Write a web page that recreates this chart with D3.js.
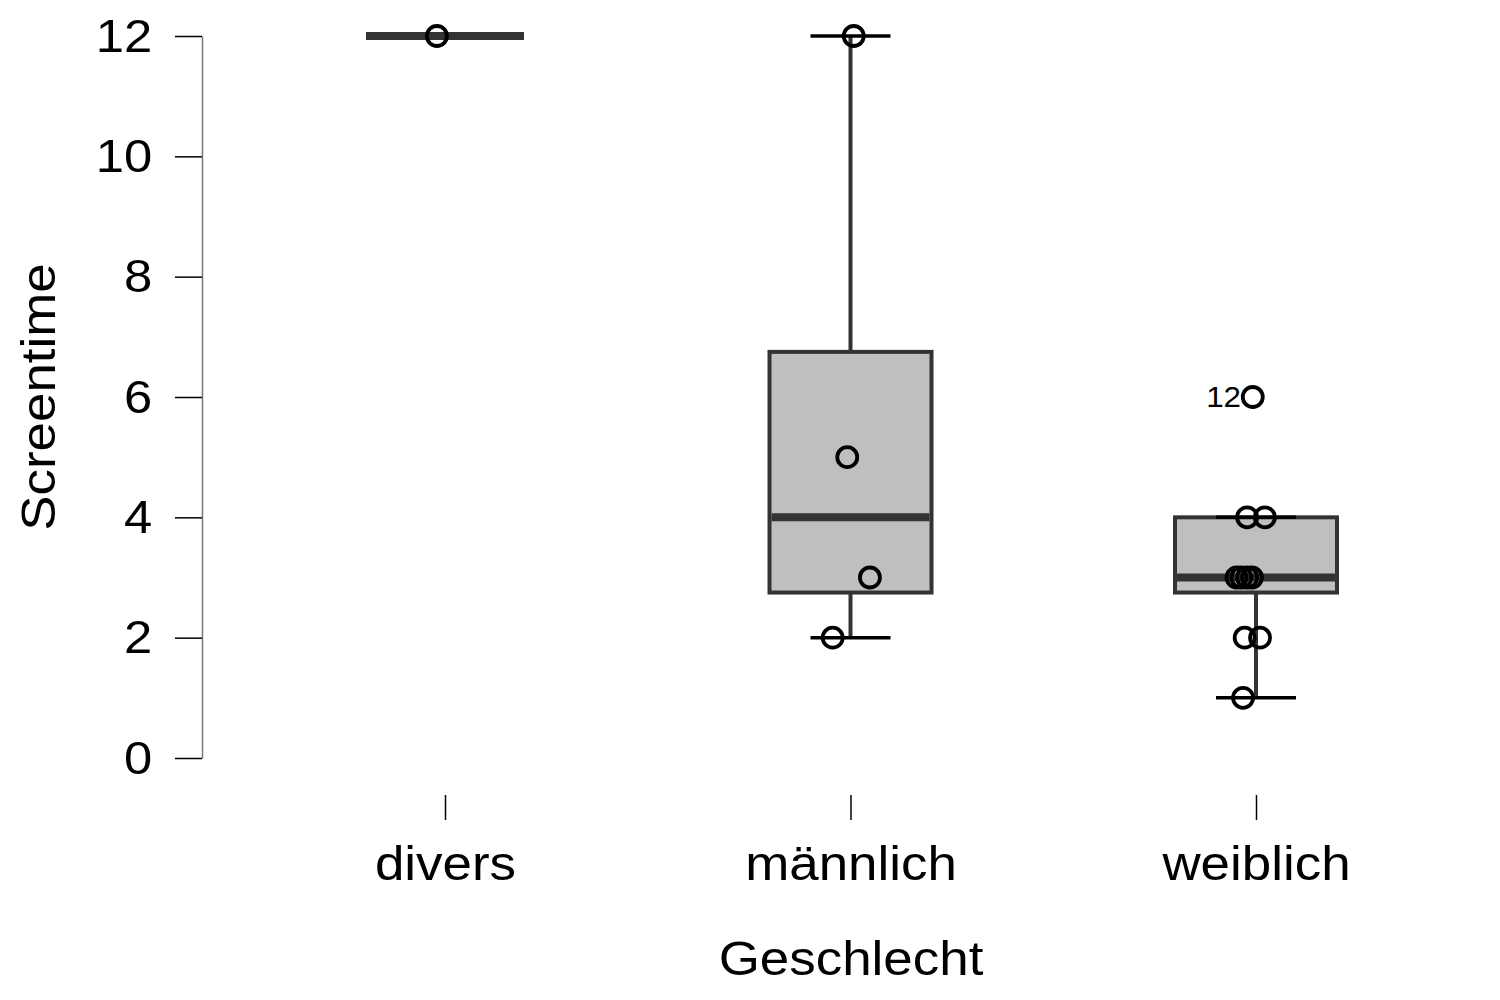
<!DOCTYPE html>
<html>
<head>
<meta charset="utf-8">
<script src="https://cdn.jsdelivr.net/npm/d3@7"></script>
<style>
  body { margin: 0; background: #fff; }
  svg text { font-family: "Liberation Sans", Arial, sans-serif; }
</style>
</head>
<body>
<div id="chart"></div>
<script>
// categories and box statistics
const categories = ["divers", "männlich", "weiblich"];
const whiskerLow = [12, 2, 1];
const q1 = [12, 2.75, 2.75];
const median = [12, 4, 3];
const q3 = [12, 6.75, 4];
const whiskerHigh = [12, 12, 4];

// observed points per category (jitter is in units of box width)
const pointValues = [
    [12],
    [12, 5, 3, 2],
    [6, 4, 4, 3, 3, 3, 3, 2, 2, 1]
];
const pointJitter = [
    [-0.05],
    [0.02, -0.02, 0.12, -0.11],
    [-0.02, -0.055, 0.055, -0.12, -0.09, -0.055, -0.025, -0.07, 0.025, -0.08]
];
const outlierLabels = [{ cat: "weiblich", value: 6, label: "12" }];

const yTicks = [0, 2, 4, 6, 8, 10, 12];

const width = 1500;
const height = 1000;
// the reference glyphs run a little wider than Liberation Sans
const stretch = 1.08;

const svg = d3.select("#chart").append("svg")
    .attr("width", width)
    .attr("height", height);

const y = d3.scaleLinear()
    .domain([0, 12])
    .range([758, 36]);

const x = d3.scalePoint()
    .domain(categories)
    .range([445, 1256]);

const boxWidth = 162;
const capWidth = 80;
const boxStroke = "#333333";

// y axis
const yAxis = svg.append("g")
    .attr("transform", "translate(202,0)")
    .call(d3.axisLeft(y).tickValues(yTicks).tickSize(27).tickSizeOuter(0).tickPadding(19));
yAxis.select(".domain").attr("stroke", "#777").attr("stroke-width", 1.5);
yAxis.selectAll(".tick line").attr("stroke", "#000").attr("stroke-width", 1.5);
yAxis.selectAll("text")
    .style("font-size", "47px")
    .attr("fill", "#000")
    .attr("transform", `scale(${stretch},1)`);

// x axis (ticks only)
const xAxis = svg.append("g")
    .attr("transform", "translate(0,795)")
    .call(d3.axisBottom(x).tickSize(25).tickSizeOuter(0).tickPadding(25));
xAxis.select(".domain").remove();
xAxis.selectAll(".tick line").attr("stroke", "#000").attr("stroke-width", 1.5);
xAxis.selectAll("text")
    .style("font-size", "49px")
    .attr("fill", "#000")
    .attr("transform", `scale(${stretch},1)`);

// axis titles
svg.append("text")
    .attr("transform", `translate(851,975) scale(${stretch},1)`)
    .attr("text-anchor", "middle")
    .style("font-size", "49px")
    .text("Geschlecht");

svg.append("text")
    .attr("transform", `translate(55,397) rotate(-90) scale(${stretch},1)`)
    .attr("text-anchor", "middle")
    .style("font-size", "49px")
    .text("Screentime");

const boxes = categories.map((c, i) => ({
    cat: c,
    lo: whiskerLow[i], q1: q1[i], med: median[i], q3: q3[i], hi: whiskerHigh[i]
}));

const g = svg.append("g");

// whiskers
g.selectAll("line.whisker-low")
    .data(boxes.filter(d => d.lo < d.q1))
    .enter().append("line")
    .attr("x1", d => x(d.cat)).attr("x2", d => x(d.cat))
    .attr("y1", d => y(d.q1)).attr("y2", d => y(d.lo))
    .attr("stroke", boxStroke).attr("stroke-width", 4);

g.selectAll("line.whisker-high")
    .data(boxes.filter(d => d.hi > d.q3))
    .enter().append("line")
    .attr("x1", d => x(d.cat)).attr("x2", d => x(d.cat))
    .attr("y1", d => y(d.q3)).attr("y2", d => y(d.hi))
    .attr("stroke", boxStroke).attr("stroke-width", 4);

// boxes
g.selectAll("rect.box")
    .data(boxes.filter(d => d.q3 > d.q1))
    .enter().append("rect")
    .attr("x", d => x(d.cat) - boxWidth / 2)
    .attr("y", d => y(d.q3))
    .attr("width", boxWidth)
    .attr("height", d => y(d.q1) - y(d.q3))
    .attr("fill", "#bfbfbf")
    .attr("stroke", boxStroke)
    .attr("stroke-width", 4);

// caps
const caps = [];
boxes.forEach(d => {
    if (d.lo !== d.q1 || d.hi !== d.q3) {
        caps.push({ cat: d.cat, v: d.lo });
        caps.push({ cat: d.cat, v: d.hi });
    }
});
g.selectAll("line.cap")
    .data(caps)
    .enter().append("line")
    .attr("x1", d => x(d.cat) - capWidth / 2)
    .attr("x2", d => x(d.cat) + capWidth / 2)
    .attr("y1", d => y(d.v)).attr("y2", d => y(d.v))
    .attr("stroke", "#000").attr("stroke-width", 3.5);

// medians
g.selectAll("line.median")
    .data(boxes)
    .enter().append("line")
    .attr("x1", d => x(d.cat) - boxWidth / 2 + 2)
    .attr("x2", d => x(d.cat) + boxWidth / 2 - 2)
    .attr("y1", d => y(d.med)).attr("y2", d => y(d.med))
    .attr("stroke", boxStroke).attr("stroke-width", 8);

// points
const points = [];
categories.forEach((c, i) => {
    pointValues[i].forEach((v, j) => points.push({ cat: c, value: v, jit: pointJitter[i][j] }));
});
g.selectAll("circle.pt")
    .data(points)
    .enter().append("circle")
    .attr("cx", d => x(d.cat) + d.jit * boxWidth)
    .attr("cy", d => y(d.value))
    .attr("r", 10)
    .attr("fill", "none")
    .attr("stroke", "#000")
    .attr("stroke-width", 3.8);

// outlier labels
g.selectAll("text.outlier")
    .data(outlierLabels)
    .enter().append("text")
    .attr("transform", d => `translate(${x(d.cat) - 15},${y(d.value)}) scale(${stretch},1)`)
    .attr("dy", "0.36em")
    .attr("text-anchor", "end")
    .style("font-size", "29px")
    .text(d => d.label);
</script>
</body>
</html>
